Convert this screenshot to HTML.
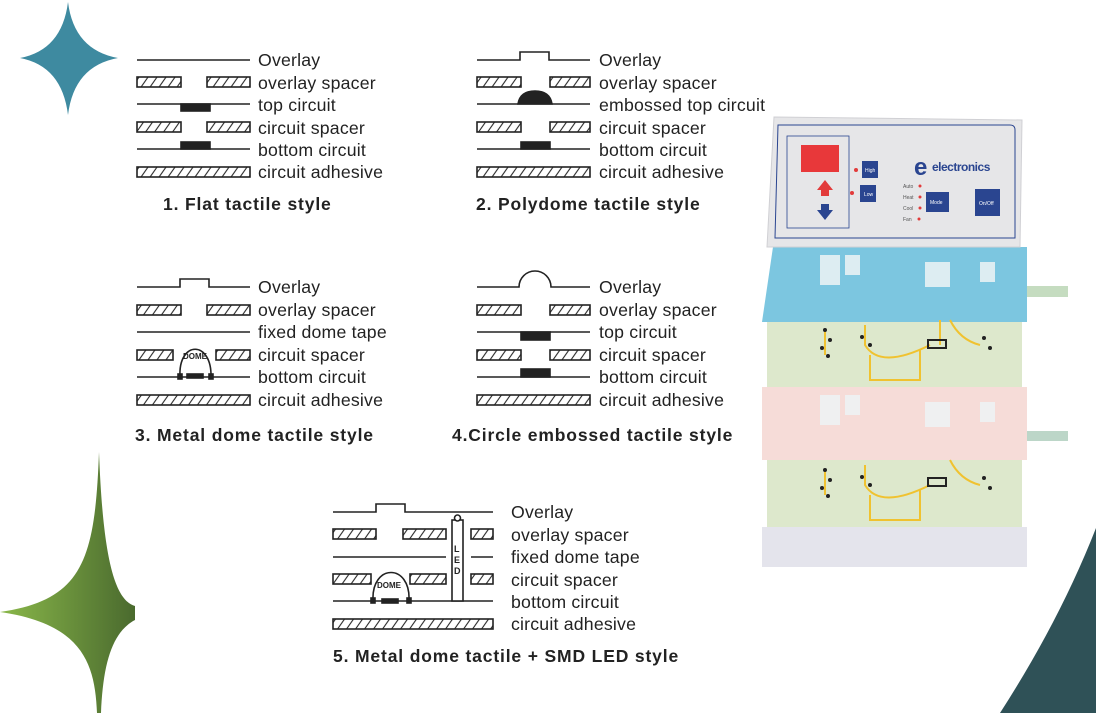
<!DOCTYPE html>
<html><head><meta charset="utf-8"><style>
html,body{margin:0;padding:0;background:#fff;width:1096px;height:713px;overflow:hidden}
svg{display:block}
text{font-family:"Liberation Sans",Arial,sans-serif;fill:#222}
.l{font-size:17.7px;letter-spacing:0.2px}
.t{font-size:17.5px;font-weight:bold;letter-spacing:0.85px}
</style></head><body>
<svg width="1096" height="713" viewBox="0 0 1096 713" xmlns="http://www.w3.org/2000/svg">
<defs>
<pattern id="h" width="9" height="10" patternUnits="userSpaceOnUse" patternTransform="skewX(-35)">
<line x1="4" y1="0" x2="4" y2="10" stroke="#222" stroke-width="1.3"/>
</pattern>
<linearGradient id="g" x1="0" x2="1"><stop offset="0" stop-color="#8ab84a"/><stop offset="1" stop-color="#4a6a2e"/></linearGradient>
</defs>
<!-- decorative -->
<path d="M68,2 Q74,50 118,58 Q74,66 68,115 Q62,66 20,58 Q62,50 68,2Z" fill="#3e8aa0"/>
<path d="M99,452 C103,560 115,600 135,606 L135,620 C112,632 103,664 101,713 L97,713 C95,664 83,624 0,612 C83,600 95,560 99,452Z" fill="url(#g)"/>
<path d="M1096,528 Q1060,620 1000,713 L1096,713Z" fill="#2f5157"/>

<g stroke="#222" stroke-width="1.6" fill="none">
<line x1="137" y1="60" x2="250" y2="60"/>
<rect x="137" y="77" width="44" height="10" fill="url(#h)"/><rect x="207" y="77" width="43" height="10" fill="url(#h)"/>
<line x1="137" y1="104" x2="250" y2="104"/>
<rect x="181" y="104" width="29" height="7" fill="#222"/>
<rect x="137" y="122" width="44" height="10" fill="url(#h)"/><rect x="207" y="122" width="43" height="10" fill="url(#h)"/>
<line x1="137" y1="149" x2="250" y2="149"/>
<rect x="181" y="142" width="29" height="7" fill="#222"/>
<rect x="137" y="167" width="113" height="10" fill="url(#h)"/>

<path d="M477,60 H520 V52 H549 V60 H590"/>
<rect x="477" y="77" width="44" height="10" fill="url(#h)"/><rect x="550" y="77" width="40" height="10" fill="url(#h)"/>
<line x1="477" y1="104" x2="590" y2="104"/>
<path d="M518,104 Q520,91 535,91 Q550,91 552,104Z" fill="#222"/>
<rect x="477" y="122" width="44" height="10" fill="url(#h)"/><rect x="550" y="122" width="40" height="10" fill="url(#h)"/>
<line x1="477" y1="149" x2="590" y2="149"/>
<rect x="521" y="142" width="29" height="7" fill="#222"/>
<rect x="477" y="167" width="113" height="10" fill="url(#h)"/>

<path d="M137,287 H180 V279 H209 V287 H250"/>
<rect x="137" y="305" width="44" height="10" fill="url(#h)"/><rect x="207" y="305" width="43" height="10" fill="url(#h)"/>
<line x1="137" y1="332" x2="250" y2="332"/>
<rect x="137" y="350" width="36" height="10" fill="url(#h)"/><rect x="216" y="350" width="34" height="10" fill="url(#h)"/>
<line x1="137" y1="377" x2="250" y2="377"/>
<path d="M180,377 C178,340 212,340 211,377"/>
<rect x="178" y="374" width="4" height="5" fill="#222"/><rect x="209" y="374" width="4" height="5" fill="#222"/>
<rect x="187" y="374" width="16" height="4" fill="#222"/>
<rect x="137" y="395" width="113" height="10" fill="url(#h)"/>

<path d="M477,287 H519 A16,16 0 0 1 551,287 H590"/>
<rect x="477" y="305" width="44" height="10" fill="url(#h)"/><rect x="550" y="305" width="40" height="10" fill="url(#h)"/>
<line x1="477" y1="332" x2="590" y2="332"/>
<rect x="521" y="332" width="29" height="8" fill="#222"/>
<rect x="477" y="350" width="44" height="10" fill="url(#h)"/><rect x="550" y="350" width="40" height="10" fill="url(#h)"/>
<line x1="477" y1="377" x2="590" y2="377"/>
<rect x="521" y="369" width="29" height="8" fill="#222"/>
<rect x="477" y="395" width="113" height="10" fill="url(#h)"/>

<path d="M333,512 H376 V504 H405 V512 H493"/>
<rect x="333" y="529" width="43" height="10" fill="url(#h)"/><rect x="403" y="529" width="43" height="10" fill="url(#h)"/><rect x="471" y="529" width="22" height="10" fill="url(#h)"/>
<line x1="333" y1="557" x2="446" y2="557"/><line x1="471" y1="557" x2="493" y2="557"/>
<rect x="333" y="574" width="38" height="10" fill="url(#h)"/><rect x="410" y="574" width="36" height="10" fill="url(#h)"/><rect x="471" y="574" width="22" height="10" fill="url(#h)"/>
<line x1="333" y1="601" x2="493" y2="601"/>
<rect x="452" y="520" width="11" height="81" fill="#fff"/>
<circle cx="457.5" cy="518" r="3" fill="#fff"/>
<path d="M373,601 C371,563 411,563 409,601"/>
<rect x="371" y="598" width="4" height="5" fill="#222"/><rect x="407" y="598" width="4" height="5" fill="#222"/>
<rect x="382" y="599" width="16" height="4" fill="#222"/>
<rect x="333" y="619" width="160" height="10" fill="url(#h)"/>
</g>
<g>
<text x="183" y="359" style="font-size:8px;font-weight:bold">DOME</text>
<text x="377" y="588" style="font-size:8px;font-weight:bold">DOME</text>
<text x="454" y="552" style="font-size:9px;font-weight:bold">L</text>
<text x="454" y="563" style="font-size:9px;font-weight:bold">E</text>
<text x="454" y="574" style="font-size:9px;font-weight:bold">D</text>
</g>

<g>
<text class="l" x="258" y="66">Overlay</text>
<text class="l" x="258" y="89">overlay spacer</text>
<text class="l" x="258" y="111">top circuit</text>
<text class="l" x="258" y="134">circuit spacer</text>
<text class="l" x="258" y="156">bottom circuit</text>
<text class="l" x="258" y="178">circuit adhesive</text>
<text class="t" x="163" y="210">1. Flat  tactile style</text>

<text class="l" x="599" y="66">Overlay</text>
<text class="l" x="599" y="89">overlay spacer</text>
<text class="l" x="599" y="111">embossed top circuit</text>
<text class="l" x="599" y="134">circuit spacer</text>
<text class="l" x="599" y="156">bottom circuit</text>
<text class="l" x="599" y="178">circuit adhesive</text>
<text class="t" x="476" y="210">2. Polydome tactile style</text>

<text class="l" x="258" y="293">Overlay</text>
<text class="l" x="258" y="316">overlay spacer</text>
<text class="l" x="258" y="338">fixed dome tape</text>
<text class="l" x="258" y="361">circuit spacer</text>
<text class="l" x="258" y="383">bottom circuit</text>
<text class="l" x="258" y="406">circuit adhesive</text>
<text class="t" x="135" y="441">3. Metal dome tactile style</text>

<text class="l" x="599" y="293">Overlay</text>
<text class="l" x="599" y="316">overlay spacer</text>
<text class="l" x="599" y="338">top circuit</text>
<text class="l" x="599" y="361">circuit spacer</text>
<text class="l" x="599" y="383">bottom circuit</text>
<text class="l" x="599" y="406">circuit adhesive</text>
<text class="t" x="452" y="441">4.Circle embossed tactile style</text>

<text class="l" x="511" y="518">Overlay</text>
<text class="l" x="511" y="541">overlay spacer</text>
<text class="l" x="511" y="563">fixed dome tape</text>
<text class="l" x="511" y="586">circuit spacer</text>
<text class="l" x="511" y="608">bottom circuit</text>
<text class="l" x="511" y="630">circuit adhesive</text>
<text class="t" x="333" y="662">5. Metal dome tactile + SMD LED style</text>
</g>

<g>
<polygon points="762,527 1027,527 1027,567 762,567" fill="#e4e4ec"/>
<polygon points="767,460 1022,460 1022,527 767,527" fill="#dde8cc"/>
<polygon points="1027,441 1068,441 1068,431 1027,431" fill="#bcd6c8"/>
<polygon points="762,387 1027,387 1027,460 762,460" fill="#f6dcd8"/>
<polygon points="767,322 1022,322 1022,387 767,387" fill="#dde8cc"/>
<polygon points="1027,297 1068,297 1068,286 1027,286" fill="#c5dcc0"/>
<polygon points="773,247 1027,247 1027,322 762,322" fill="#7cc6e0"/>
<g fill="#eef4f6" opacity="0.85">
<rect x="820" y="255" width="20" height="30"/><rect x="845" y="255" width="15" height="20"/><rect x="925" y="262" width="25" height="25"/><rect x="980" y="262" width="15" height="20"/>
<rect x="820" y="395" width="20" height="30"/><rect x="845" y="395" width="15" height="20"/><rect x="925" y="402" width="25" height="25"/><rect x="980" y="402" width="15" height="20"/>
</g>
<g stroke="#f0c230" stroke-width="2" fill="none">
<path d="M825,330 V355 M865,325 V345 Q880,370 930,345 M940,320 V345 M950,320 Q960,340 980,345 M870,355 V380 H920 V350"/>
<path d="M825,470 V495 M865,465 V485 Q880,510 930,485 M950,460 Q960,480 980,485 M870,495 V520 H920 V490"/>
</g>
<g fill="#222">
<circle cx="825" cy="330" r="2"/><circle cx="830" cy="340" r="2"/><circle cx="822" cy="348" r="2"/><circle cx="828" cy="356" r="2"/>
<circle cx="862" cy="337" r="2"/><circle cx="870" cy="345" r="2"/><circle cx="984" cy="338" r="2"/><circle cx="990" cy="348" r="2"/>
<rect x="928" y="340" width="18" height="8" fill="none" stroke="#222" stroke-width="2"/>
<circle cx="825" cy="470" r="2"/><circle cx="830" cy="480" r="2"/><circle cx="822" cy="488" r="2"/><circle cx="828" cy="496" r="2"/>
<circle cx="862" cy="477" r="2"/><circle cx="870" cy="485" r="2"/><circle cx="984" cy="478" r="2"/><circle cx="990" cy="488" r="2"/>
<rect x="928" y="478" width="18" height="8" fill="none" stroke="#222" stroke-width="2"/>
</g>
<polygon points="774,117 1022,120 1020,247 767,247" fill="#e6e6e8" stroke="#d0d0d4"/>
<path d="M778,125 H1010 Q1015,125 1015,130 V238 H775 Z" fill="none" stroke="#2a4590" stroke-width="1"/>
<rect x="787" y="136" width="62" height="92" fill="none" stroke="#2a4590" stroke-width="0.8"/>
<rect x="801" y="145" width="38" height="27" fill="#e8383a"/>
<polygon points="825,180 833,190 829,190 829,196 821,196 821,190 817,190" fill="#e23b3b"/>
<polygon points="825,220 833,210 829,210 829,204 821,204 821,210 817,210" fill="#2a4590"/>
<rect x="862" y="161" width="16" height="17" fill="#2a4590"/>
<rect x="860" y="185" width="16" height="17" fill="#2a4590"/>
<rect x="926" y="192" width="23" height="20" fill="#2a4590"/>
<rect x="975" y="189" width="25" height="27" fill="#2a4590"/>
<circle cx="856" cy="170" r="2" fill="#e23b3b"/><circle cx="852" cy="193" r="2" fill="#e23b3b"/>
<circle cx="920" cy="186" r="1.5" fill="#e23b3b"/><circle cx="920" cy="197" r="1.5" fill="#e23b3b"/><circle cx="920" cy="208" r="1.5" fill="#e23b3b"/><circle cx="919" cy="219" r="1.5" fill="#e23b3b"/>
<text x="914" y="175" style="font-size:24px;font-weight:bold;fill:#2a4590">e</text>
<text x="932" y="171" style="font-size:12px;font-weight:bold;fill:#2a4590;letter-spacing:-0.5px">electronics</text>
<text x="865" y="172" style="font-size:5px;fill:#fff">High</text><text x="864" y="196" style="font-size:5px;fill:#fff">Low</text><text x="930" y="204" style="font-size:5px;fill:#fff">Mode</text><text x="979" y="205" style="font-size:5px;fill:#fff">On/Off</text>
<text x="903" y="188" style="font-size:5px;fill:#555">Auto</text><text x="903" y="199" style="font-size:5px;fill:#555">Heat</text><text x="903" y="210" style="font-size:5px;fill:#555">Cool</text><text x="903" y="221" style="font-size:5px;fill:#555">Fan</text>
</g>
</svg>
</body></html>
